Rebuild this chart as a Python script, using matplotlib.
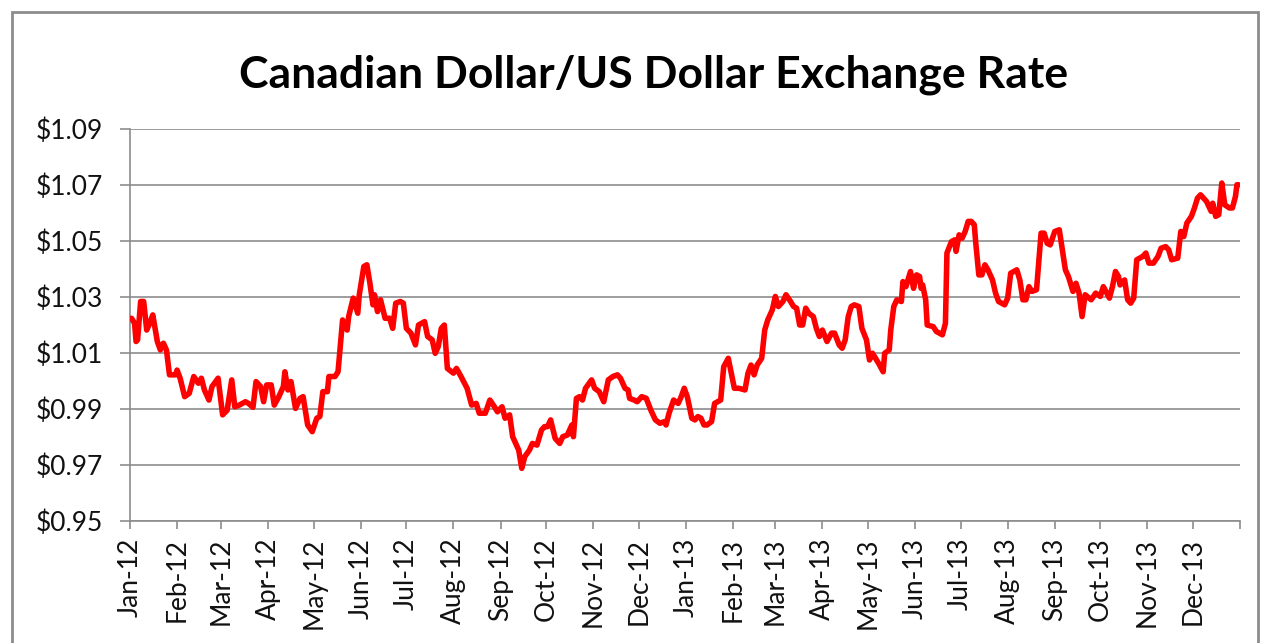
import matplotlib
matplotlib.use("Agg")
import matplotlib.pyplot as plt
import matplotlib.dates as mdates
from matplotlib.patches import Rectangle
from matplotlib.ticker import FixedLocator, FuncFormatter
import pandas as pd
import numpy as np

title = "Canadian Dollar/US Dollar Exchange Rate"
start_date = "2012-01-01"
end_date = "2014-01-01"

# Observation dates, as days elapsed since 2012-01-01
days_since_start = [
    1, 3, 4, 5, 7, 9, 11, 13, 15, 18, 20, 22, 24, 26, 30, 31, 33, 36, 39, 42,
    45, 47, 49, 52, 54, 58, 61, 64, 67, 69, 72, 76, 78, 81, 83, 86, 88, 90, 93, 95,
    98, 101, 102, 104, 106, 109, 112, 114, 117, 120, 123, 125, 127, 130, 131, 135, 137, 140, 143, 144,
    147, 150, 151, 154, 156, 158, 160, 161, 163, 165, 168, 171, 173, 175, 178, 180, 182, 185, 188, 190,
    194, 196, 199, 201, 203, 205, 207, 209, 213, 215, 218, 222, 225, 228, 230, 234, 237, 240, 242, 245,
    247, 250, 252, 256, 258, 260, 263, 265, 268, 271, 273, 275, 277, 280, 283, 285, 288, 291, 292, 294,
    296, 298, 300, 304, 306, 309, 312, 315, 318, 321, 323, 326, 328, 329, 332, 334, 337, 340, 343, 346,
    349, 352, 353, 355, 358, 361, 363, 365, 367, 370, 372, 374, 376, 378, 380, 383, 385, 387, 389, 391,
    394, 396, 398, 401, 405, 407, 409, 411, 413, 416, 418, 420, 423, 425, 427, 430, 432, 435, 437, 439,
    441, 443, 445, 447, 450, 452, 454, 456, 459, 462, 464, 467, 469, 471, 473, 475, 477, 480, 482, 485,
    487, 489, 491, 493, 496, 497, 500, 501, 503, 505, 508, 509, 511, 514, 516, 518, 520, 521, 522, 524,
    525, 529, 531, 533, 535, 537, 538, 541, 543, 544, 546, 548, 550, 552, 554, 556, 557, 559, 561, 563,
    565, 568, 570, 572, 576, 578, 580, 582, 584, 586, 588, 590, 592, 594, 597, 600, 602, 604, 606, 609,
    612, 614, 616, 618, 621, 623, 625, 627, 629, 633, 636, 639, 641, 645, 647, 649, 651, 652, 655, 657,
    659, 661, 663, 667, 669, 671, 674, 677, 679, 682, 684, 686, 690, 692, 694, 696, 699, 701, 703, 705,
    707, 709, 712, 713, 715, 717, 719, 721, 724, 726, 728, 729, 730,
]

# CAD per USD
rate = [
    1.0224, 1.0206, 1.0141, 1.0147, 1.0284, 1.0284, 1.0182, 1.0206, 1.0236, 1.0141,
    1.0111, 1.0135, 1.0111, 1.0022, 1.0022, 1.0039, 1.0010, 0.9944, 0.9956, 1.0016,
    0.9992, 1.0010, 0.9968, 0.9932, 0.9980, 1.0010, 0.9879, 0.9896, 1.0004, 0.9908,
    0.9914, 0.9926, 0.9920, 0.9906, 0.9998, 0.9980, 0.9926, 0.9986, 0.9986, 0.9914,
    0.9944, 0.9980, 1.0033, 0.9968, 0.9998, 0.9902, 0.9938, 0.9944, 0.9843, 0.9819,
    0.9867, 0.9873, 0.9962, 0.9962, 1.0016, 1.0016, 1.0033, 1.0218, 1.0182, 1.0230,
    1.0296, 1.0242, 1.0308, 1.0409, 1.0415, 1.0349, 1.0272, 1.0308, 1.0248, 1.0290,
    1.0224, 1.0224, 1.0188, 1.0278, 1.0284, 1.0278, 1.0188, 1.0171, 1.0129, 1.0200,
    1.0212, 1.0159, 1.0147, 1.0099, 1.0123, 1.0188, 1.0200, 1.0045, 1.0028, 1.0045,
    1.0016, 0.9974, 0.9914, 0.9920, 0.9885, 0.9885, 0.9932, 0.9908, 0.9890, 0.9908,
    0.9867, 0.9879, 0.9801, 0.9753, 0.9688, 0.9730, 0.9753, 0.9777, 0.9771, 0.9825,
    0.9837, 0.9837, 0.9861, 0.9795, 0.9777, 0.9801, 0.9807, 0.9843, 0.9801, 0.9938,
    0.9944, 0.9932, 0.9974, 1.0004, 0.9974, 0.9962, 0.9926, 1.0004, 1.0016, 1.0022,
    1.0010, 0.9974, 0.9968, 0.9938, 0.9932, 0.9926, 0.9944, 0.9938, 0.9896, 0.9861,
    0.9849, 0.9855, 0.9843, 0.9885, 0.9932, 0.9920, 0.9944, 0.9974, 0.9944, 0.9867,
    0.9861, 0.9873, 0.9867, 0.9843, 0.9843, 0.9855, 0.9920, 0.9926, 0.9932, 1.0051,
    1.0081, 1.0028, 0.9974, 0.9974, 0.9968, 1.0028, 1.0057, 1.0022, 1.0057, 1.0081,
    1.0182, 1.0218, 1.0254, 1.0302, 1.0266, 1.0284, 1.0308, 1.0284, 1.0266, 1.0260,
    1.0200, 1.0200, 1.0260, 1.0242, 1.0230, 1.0188, 1.0159, 1.0182, 1.0141, 1.0171,
    1.0171, 1.0129, 1.0117, 1.0147, 1.0230, 1.0266, 1.0272, 1.0266, 1.0188, 1.0147,
    1.0075, 1.0099, 1.0081, 1.0063, 1.0033, 1.0099, 1.0111, 1.0182, 1.0266, 1.0290,
    1.0284, 1.0355, 1.0337, 1.0391, 1.0331, 1.0379, 1.0373, 1.0331, 1.0343, 1.0290,
    1.0200, 1.0194, 1.0177, 1.0171, 1.0165, 1.0206, 1.0457, 1.0498, 1.0504, 1.0463,
    1.0522, 1.0510, 1.0534, 1.0570, 1.0570, 1.0558, 1.0492, 1.0379, 1.0379, 1.0415,
    1.0397, 1.0361, 1.0314, 1.0284, 1.0272, 1.0296, 1.0385, 1.0391, 1.0397, 1.0361,
    1.0290, 1.0290, 1.0337, 1.0320, 1.0326, 1.0528, 1.0528, 1.0492, 1.0486, 1.0534,
    1.0540, 1.0469, 1.0397, 1.0373, 1.0320, 1.0349, 1.0314, 1.0230, 1.0308, 1.0290,
    1.0314, 1.0302, 1.0337, 1.0296, 1.0337, 1.0391, 1.0373, 1.0343, 1.0361, 1.0290,
    1.0278, 1.0296, 1.0433, 1.0445, 1.0457, 1.0421, 1.0421, 1.0445, 1.0474, 1.0480,
    1.0469, 1.0433, 1.0439, 1.0534, 1.0516, 1.0564, 1.0588, 1.0618, 1.0653, 1.0665,
    1.0653, 1.0641, 1.0606, 1.0635, 1.0588, 1.0594, 1.0707, 1.0629, 1.0618, 1.0618,
    1.0659, 1.0701, 1.0701,
]

y_ticks = [0.95, 0.97, 0.99, 1.01, 1.03, 1.05, 1.07, 1.09]

dates = pd.Timestamp(start_date) + pd.to_timedelta(days_since_start, unit="D")
x_end = pd.Timestamp(end_date)

W, H = 1265, 643
fig = plt.figure(figsize=(W / 100, H / 100), dpi=100)
plt.rcParams['font.family'] = ['Lato', 'DejaVu Sans']

# outer chart border
fig.patches.append(Rectangle((12 / W, -0.02), (1258 - 12) / W, 1 - 12 / H + 0.02,
                             transform=fig.transFigure, fill=False,
                             edgecolor="#8c8c8c", linewidth=2))

ax = fig.add_axes([130 / W, 1 - 521 / H, (1240 - 130) / W, (521 - 129) / H])
ax.plot(dates, rate, color="#ff0000", linewidth=4.0, solid_joinstyle="round",
        solid_capstyle="round", zorder=3)

ax.set_xlim(pd.Timestamp(start_date), x_end)
ax.set_ylim(y_ticks[0], y_ticks[-1])

ax.yaxis.set_major_locator(FixedLocator(y_ticks))
ax.yaxis.set_major_formatter(FuncFormatter(lambda v, p: f"${v:.2f}"))
ax.xaxis.set_major_locator(mdates.MonthLocator())
end_num = mdates.date2num(x_end)
ax.xaxis.set_major_formatter(FuncFormatter(
    lambda v, p: "" if v >= end_num - 0.5 else mdates.num2date(v).strftime("%b-%y")))

grid_c = "#8c8c8c"
ax.grid(axis="y", color=grid_c, linewidth=1.2)
ax.set_axisbelow(True)
for s in ["top", "right"]:
    ax.spines[s].set_visible(False)
for s in ["left", "bottom"]:
    ax.spines[s].set_color(grid_c)
    ax.spines[s].set_linewidth(1.2)

ax.tick_params(axis="y", direction="out", length=7.5, width=1.2, color=grid_c,
               labelsize=19, pad=12, labelcolor="#111111")
ax.tick_params(axis="x", direction="out", length=6, width=1.2, color=grid_c,
               labelsize=19, pad=6, labelrotation=90, labelcolor="#111111")
for lab in ax.get_xticklabels():
    lab.set_horizontalalignment("center")

fig.text(654 / W, 1 - 75 / H, title, ha="center", va="center",
         fontsize=32, fontweight="bold", color="#000000")

fig.savefig("out.png", dpi=100)
